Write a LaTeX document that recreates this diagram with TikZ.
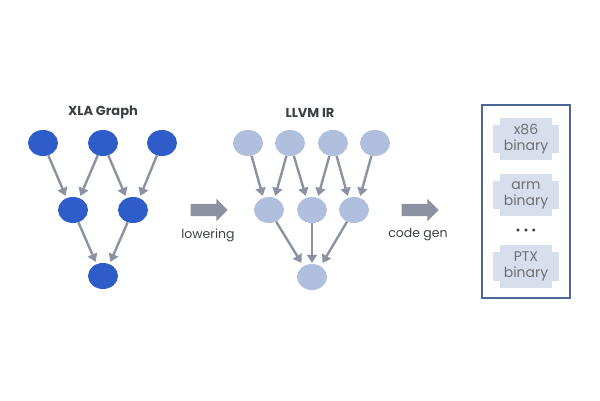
\documentclass[tikz,border=0pt]{standalone}
\usepackage{fontspec}
\setmainfont{Poppins}
\usepackage{tikz}
\usetikzlibrary{shapes.geometric, shapes.arrows, arrows.meta}
\usetikzlibrary{positioning, backgrounds}

\definecolor{xlablue}{RGB}{46,92,200}
\definecolor{llvmblue}{RGB}{176,191,222}
\definecolor{edgegray}{RGB}{140,146,162}
\definecolor{textgray}{RGB}{60,64,67}
\definecolor{binfill}{RGB}{216,223,236}
\definecolor{boxline}{RGB}{78,104,150}

\tikzset{
  xla/.style={ellipse, fill=xlablue, minimum width=30pt, minimum height=26pt, inner sep=0pt},
  llvm/.style={xla, fill=llvmblue},
  edge/.style={-{Triangle[length=8pt,width=10pt]}, line width=2.4pt, draw=edgegray, shorten >=1pt},
  bigarrow/.style={single arrow, fill=edgegray, minimum height=37pt, single arrow head extend=5pt, inner xsep=0pt, inner ysep=6pt},
  lbl/.style={text=textgray, font=\fontsize{12.5}{14}\selectfont},
  title/.style={lbl, font=\fontsize{13}{15}\selectfont\bfseries},
  binbox/.style={minimum width=65pt, minimum height=42pt, align=center, text=textgray!75, font=\fontsize{14}{16}\selectfont, inner sep=0pt}
}

% Ecken ausgeschnitten
\newcommand\notchfill[1]{%
  \fill[binfill] ([xshift=7pt]#1.north west) rectangle ([xshift=-7pt]#1.south east);
  \fill[binfill] ([yshift=-7pt]#1.north west) rectangle ([yshift=7pt]#1.south east);}

\begin{document}
\begin{tikzpicture}[x=1pt, y=-1pt]
  \useasboundingbox (0,0) rectangle (600,400);

  % XLA Graph
  \node[title] (xlatitle) at (103,112) {XLA Graph};
  \node[xla] (x1) at (43,143) {};
  \node[xla] (x2) at (103,143) {};
  \node[xla] (x3) at (162,143) {};
  \node[xla] (x4) at (73,210) {};
  \node[xla] (x5) at (133,210) {};
  \node[xla] (x6) at (103,276) {};

  \draw[edge] (x1) -- ([xshift=-7pt]x4.north);
  \draw[edge] (x2) -- ([xshift=7pt]x4.north);
  \draw[edge] (x2) -- ([xshift=-7pt]x5.north);
  \draw[edge] (x3) -- ([xshift=7pt]x5.north);
  \draw[edge] (x4) -- ([xshift=-7pt]x6.north);
  \draw[edge] (x5) -- ([xshift=7pt]x6.north);

  % lowering
  \node[bigarrow] (lower) at (206,210) {};
  \node[lbl] (lowerlbl) at (208,235) {lowering};

  % LLVM IR
  \node[title] (llvmtitle) at (310,113) {LLVM IR};
  \node[llvm] (l1) at (248,143) {};
  \node[llvm] (l2) at (290,143) {};
  \node[llvm] (l3) at (333,143) {};
  \node[llvm] (l4) at (375,143) {};
  \node[llvm] (l5) at (269,210) {};
  \node[llvm] (l6) at (312,210) {};
  \node[llvm] (l7) at (354,210) {};
  \node[llvm] (l8) at (312,277) {};

  \draw[edge] (l1) -- ([xshift=-6pt]l5.north);
  \draw[edge] (l2) -- ([xshift=6pt]l5.north);
  \draw[edge] (l2) -- ([xshift=-6pt]l6.north);
  \draw[edge] (l3) -- ([xshift=6pt]l6.north);
  \draw[edge] (l3) -- ([xshift=-6pt]l7.north);
  \draw[edge] (l4) -- ([xshift=6pt]l7.north);
  \draw[edge] (l5) -- ([xshift=-10pt]l8.north);
  \draw[edge] (l6) -- (l8.north);
  \draw[edge] (l7) -- ([xshift=10pt]l8.north);

  % code gen
  \node[bigarrow] (codegen) at (417,210) {};
  \node[lbl] (codegenlbl) at (418,235) {code gen};

  % Binaries
  \node[draw=boxline, line width=1.4pt, minimum width=88pt, minimum height=193pt] (outbox) at (526,201.5) {};
  \node[binbox] (x86) at (526,139) {x86\\binary};
  \node[binbox] (arm) at (526,195) {arm\\binary};
  \node[lbl, font=\fontsize{12}{14}\selectfont] (dots) at (526,232) {\textbullet\hspace{3pt}\textbullet\hspace{3pt}\textbullet};
  \node[binbox] (ptx) at (526,266.5) {PTX\\binary};
  \begin{scope}[on background layer]
    \notchfill{x86}
    \notchfill{arm}
    \notchfill{ptx}
  \end{scope}

\end{tikzpicture}
\end{document}
